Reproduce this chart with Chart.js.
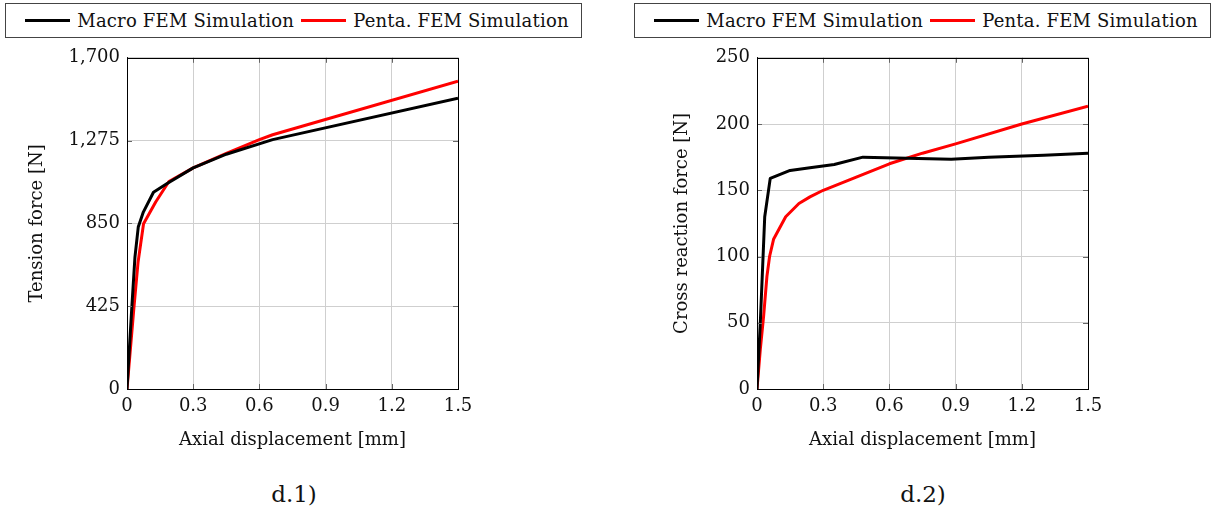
<!DOCTYPE html>
<html>
<head>
<meta charset="utf-8">
<script src="https://cdn.jsdelivr.net/npm/chart.js@4.4.0/dist/chart.umd.min.js"></script>
<style>
  body { margin: 0; background: #fff; font-family: "DejaVu Serif", serif; }
  #wrap { position: relative; width: 1225px; height: 522px; }
  .panel { position: absolute; top: 40px; width: 600px; height: 430px; }
  .legend {
    position: absolute; top: 3px; height: 35px; width: 577px;
    border: 1px solid #444; box-sizing: border-box;
    display: flex; align-items: center; justify-content: center;
    font-size: 18px; color: #111; white-space: nowrap; letter-spacing: 0.2px;
  }
  .legend .sw { display: inline-block; width: 45px; height: 3px; margin: 0 7px 0 7px; }
  .caption { position: absolute; top: 481px; font-size: 23px; color: #111; transform: translateX(-50%); }
</style>
</head>
<body>
<div id="wrap">
  <div class="legend" id="legend1" style="left:5px"></div>
  <div class="legend" id="legend2" style="left:634px"></div>
  <div class="panel" style="left:0px"><canvas id="chart1"></canvas></div>
  <div class="panel" style="left:630px"><canvas id="chart2"></canvas></div>
  <div class="caption" style="left:294px">d.1)</div>
  <div class="caption" style="left:923px">d.2)</div>
</div>
<script>
const seriesNames = ['Macro FEM Simulation', 'Penta. FEM Simulation'];
const seriesColors = ['#000000', '#ff0000'];

const xTicks = [0, 0.3, 0.6, 0.9, 1.2, 1.5];
const tensionTicks = [0, 425, 850, 1275, 1700];
const crossTicks = [0, 50, 100, 150, 200, 250];

// d.1) tension force [N] vs axial displacement [mm]
const tensionMacroX = [0, 0.021, 0.036, 0.051, 0.074, 0.12, 0.18, 0.3, 0.45, 0.66, 1.5];
const tensionMacroY = [0, 404, 677, 831, 908, 1010, 1053, 1135, 1205, 1280, 1492];
const tensionPentaX = [0, 0.015, 0.03, 0.05, 0.075, 0.13, 0.19, 0.3, 0.45, 0.6, 0.66, 1.5];
const tensionPentaY = [0, 200, 400, 650, 848, 960, 1065, 1135, 1210, 1280, 1305, 1580];

// d.2) cross reaction force [N] vs axial displacement [mm]
const crossMacroX = [0, 0.015, 0.035, 0.06, 0.15, 0.24, 0.35, 0.48, 0.88, 1.05, 1.3, 1.5];
const crossMacroY = [0, 50, 130, 159, 165, 167, 169.5, 175, 173.5, 175, 176.5, 178];
const crossPentaX = [0, 0.015, 0.03, 0.045, 0.057, 0.075, 0.13, 0.19, 0.24, 0.3, 0.45, 0.6, 0.75, 0.9, 1.2, 1.5];
const crossPentaY = [0, 30, 55, 85, 100, 113, 130, 140, 145, 150, 160, 170, 178, 185, 200, 213.5];

const FONT = { family: '"DejaVu Serif", serif', size: 18 };

function buildLegend(id) {
  const el = document.getElementById(id);
  seriesNames.forEach((name, i) => {
    const sw = document.createElement('span');
    sw.className = 'sw';
    sw.style.background = seriesColors[i];
    const label = document.createElement('span');
    label.textContent = name;
    el.appendChild(sw);
    el.appendChild(label);
  });
}

function toPoints(xs, ys) {
  return xs.map((x, i) => ({ x, y: ys[i] }));
}

// full box around the plot + small inward tick marks, like pgfplots
const framePlugin = {
  id: 'frame',
  afterDatasetsDraw(chart) {
    const { ctx, chartArea: a, scales } = chart;
    ctx.save();
    ctx.strokeStyle = '#666';
    ctx.lineWidth = 1;
    ctx.beginPath();
    scales.x.ticks.forEach(t => {
      const px = Math.round(scales.x.getPixelForValue(t.value)) + 0.5;
      ctx.moveTo(px, a.bottom); ctx.lineTo(px, a.bottom - 5);
      ctx.moveTo(px, a.top); ctx.lineTo(px, a.top + 5);
    });
    scales.y.ticks.forEach(t => {
      const py = Math.round(scales.y.getPixelForValue(t.value)) + 0.5;
      ctx.moveTo(a.left, py); ctx.lineTo(a.left + 5, py);
      ctx.moveTo(a.right, py); ctx.lineTo(a.right - 5, py);
    });
    ctx.stroke();
    ctx.strokeStyle = '#000';
    ctx.strokeRect(Math.round(a.left) + 0.5, Math.round(a.top) + 0.5,
      Math.round(a.right - a.left), Math.round(a.bottom - a.top));
    ctx.restore();
  }
};

function renderChart(canvasId, macroX, macroY, pentaX, pentaY, yTicks, yTitle, yTitlePad, padRight) {
  const ctx = document.getElementById(canvasId).getContext('2d');
  const yMax = yTicks[yTicks.length - 1];
  return new Chart(ctx, {
    type: 'line',
    data: {
      datasets: [
        { label: seriesNames[0], data: toPoints(macroX, macroY), borderColor: seriesColors[0] },
        { label: seriesNames[1], data: toPoints(pentaX, pentaY), borderColor: seriesColors[1] }
      ]
    },
    options: {
      responsive: false,
      animation: false,
      events: [],
      layout: { padding: { top: 17, right: padRight, bottom: 0, left: 0 } },
      elements: {
        point: { radius: 0 },
        line: { borderWidth: 3, tension: 0, borderJoinStyle: 'round' }
      },
      plugins: { legend: { display: false }, tooltip: { enabled: false } },
      scales: {
        x: {
          type: 'linear',
          min: xTicks[0],
          max: xTicks[xTicks.length - 1],
          afterBuildTicks: s => { s.ticks = xTicks.map(v => ({ value: v })); },
          afterFit: s => { s.height = 81; },
          grid: { color: '#cfcfcf', drawTicks: false },
          border: { color: '#000' },
          ticks: { font: FONT, color: '#111', padding: 7, maxRotation: 0, callback: v => String(v) },
          title: { display: true, text: 'Axial displacement [mm]', font: FONT, color: '#111', padding: { top: 0, bottom: 19 } }
        },
        y: {
          type: 'linear',
          min: 0,
          max: yMax,
          afterBuildTicks: s => { s.ticks = yTicks.map(v => ({ value: v })); },
          afterFit: s => { s.width = 127; },
          grid: { color: '#cfcfcf', drawTicks: false },
          border: { color: '#000' },
          ticks: { font: FONT, color: '#111', padding: 7 },
          title: { display: true, text: yTitle, font: FONT, color: '#111', padding: { top: yTitlePad, bottom: 0 } }
        }
      }
    },
    plugins: [framePlugin]
  });
}

['chart1', 'chart2'].forEach(id => {
  const c = document.getElementById(id);
  c.width = id === 'chart1' ? 600 : 595;
  c.height = 430;
});

buildLegend('legend1');
buildLegend('legend2');
renderChart('chart1', tensionMacroX, tensionMacroY, tensionPentaX, tensionPentaY, tensionTicks, 'Tension force [N]', 27, 142);
renderChart('chart2', crossMacroX, crossMacroY, crossPentaX, crossPentaY, crossTicks, 'Cross reaction force [N]', 42, 137);
</script>
</body>
</html>
